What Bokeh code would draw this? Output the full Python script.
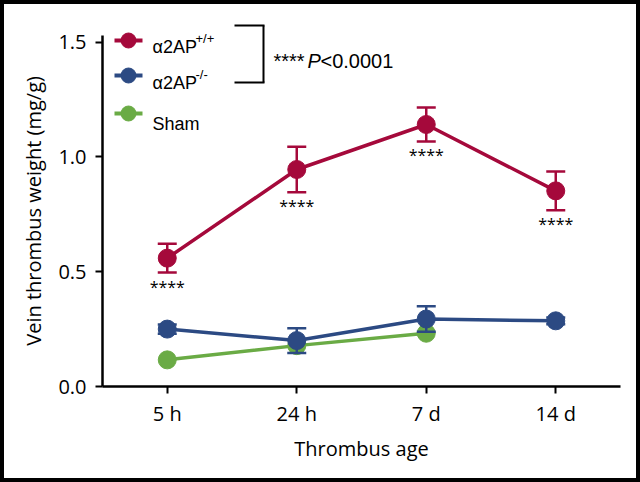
from bokeh.plotting import figure
from bokeh.models import Range1d, Label, Arrow, FixedTicker, PrintfTickFormatter, LinearScale
from bokeh.core.properties import value
from bokeh.embed import file_html
from bokeh.resources import INLINE

# ---- data ----
ages = ["5 h", "24 h", "7 d", "14 d"]
wt_mean = [0.559, 0.945, 1.141, 0.852]
wt_sem = [0.063, 0.099, 0.074, 0.084]
ko_mean = [0.250, 0.200, 0.294, 0.286]
ko_sem = [0.020, 0.054, 0.056, 0.015]
sham_ages = ["5 h", "24 h", "7 d"]
sham_mean = [0.116, 0.178, 0.232]
sig_marks = ["****", "****", "****", "****"]
y_ticks = [0.0, 0.5, 1.0, 1.5]
legend_names = ["\u03b12AP", "\u03b12AP", "Sham"]
legend_sups = ["+/+", "-/-", ""]
stat_stars = "****"
stat_p = "P"
stat_value = "<0.0001"
y_title = "Vein thrombus weight (mg/g)"
x_title = "Thrombus age"

RED = "#a5093b"
BLUE = "#2c4a83"
GREEN = "#6aab45"
AX_FONT = "Open Sans"
LEG_FONT = "Liberation Sans"

FRAME = 4
W, H = 640, 482
FW, FH = 518, 372
BL, BT = 98, 10
BR, BB = W - BL - FW, H - BT - FH
Y_TOP = 1.62

# category positions on a numeric axis (one slot per age group)
pos = {a: i + 0.5 for i, a in enumerate(ages)}
x_all = [pos[a] for a in ages]
x_sham = [pos[a] for a in sham_ages]

p = figure(x_range=Range1d(0, len(ages)), y_range=Range1d(0, Y_TOP),
           width=W, height=H, output_backend="svg", toolbar_location=None,
           min_border_left=BL, min_border_right=BR, min_border_top=BT, min_border_bottom=BB,
           styles={"border": f"{FRAME}px solid black", "box-sizing": "border-box"})
p.extra_x_ranges = {"px": Range1d(0, FW)}
p.extra_y_ranges = {"px": Range1d(0, FH)}
p.extra_x_scales = {"px": LinearScale()}
p.extra_y_scales = {"px": LinearScale()}
p.outline_line_color = None
p.xgrid.grid_line_color = None
p.ygrid.grid_line_color = None

for ax in (p.xaxis[0], p.yaxis[0]):
    ax.axis_line_width = 2.5
    ax.axis_line_color = "black"
    ax.major_tick_line_width = 2
    ax.major_tick_line_color = "black"
    ax.major_tick_out = 7
    ax.major_tick_in = 0
    ax.minor_tick_line_color = None
    ax.major_label_text_font = AX_FONT
    ax.major_label_text_font_size = "20px"
    ax.major_label_text_color = "black"
    ax.axis_label_text_font = AX_FONT
    ax.axis_label_text_font_size = "20px"
    ax.axis_label_text_font_style = "normal"
    ax.axis_label_text_color = "black"

p.yaxis.ticker = FixedTicker(ticks=y_ticks)
p.yaxis.formatter = PrintfTickFormatter(format="%.1f")
p.yaxis.bounds = (0, 1.53)
p.yaxis.major_label_standoff = 9
# trailing no-break spaces centre the title on the drawn axis line rather than the frame
p.yaxis.axis_label = y_title + "\u00a0" * 4
p.yaxis.axis_label_standoff = 8
p.xaxis.ticker = FixedTicker(ticks=x_all)
p.xaxis.major_label_overrides = {pos[a]: a for a in ages}
p.xaxis.axis_label = x_title
p.xaxis.major_label_standoff = 6
p.xaxis.axis_label_standoff = 5

# ---- sham (drawn first, underneath) ----
p.line(x_sham, sham_mean, line_color=GREEN, line_width=3.5)
p.scatter(x_sham, sham_mean, size=18, fill_color=GREEN, line_color=GREEN)

# ---- error bars and series ----
def series(means, sems, color):
    lo = [m - s for m, s in zip(means, sems)]
    hi = [m + s for m, s in zip(means, sems)]
    p.line(x_all, means, line_color=color, line_width=3.5)
    p.segment(x0=x_all, y0=lo, x1=x_all, y1=hi, line_color=color, line_width=2.5)
    p.scatter(x_all, lo, marker="dash", size=19, line_color=color, line_width=2.5)
    p.scatter(x_all, hi, marker="dash", size=19, line_color=color, line_width=2.5)
    p.scatter(x_all, means, size=18, fill_color=color, line_color=color)
    return lo

series(ko_mean, ko_sem, BLUE)
wt_lo = series(wt_mean, wt_sem, RED)

p.text(x=x_all, y=wt_lo, text=sig_marks, text_align="center", text_baseline="alphabetic",
       y_offset=14, text_font=value(AX_FONT), text_font_size="16px", text_color="black")

# ---- legend (frame pixel coordinates, origin at frame bottom-left) ----
leg_colors = [RED, BLUE, GREEN]
leg_y = [346, 311, 273]
p.segment(x0=[12] * 3, y0=leg_y, x1=[40] * 3, y1=leg_y, line_color=leg_colors,
          line_width=4, x_range_name="px", y_range_name="px")
p.scatter([26] * 3, leg_y, size=15, fill_color=leg_colors, line_color=leg_colors,
          x_range_name="px", y_range_name="px")

name_base = [340, 304, 263]
sup_base = [348, 312, 0]
for name, sup, yb, ys in zip(legend_names, legend_sups, name_base, sup_base):
    p.add_layout(Label(x=50, y=yb, x_units="screen", y_units="screen", text=name,
                       text_font=LEG_FONT, text_font_size="18px", text_color="black",
                       text_baseline="alphabetic"))
    if sup:
        p.add_layout(Label(x=93, y=ys, x_units="screen", y_units="screen", text=sup,
                           text_font=LEG_FONT, text_font_size="13px", text_color="black",
                           text_baseline="alphabetic"))

# bracket
for xs, ys, xe, ye in [(132, 361, 162, 361), (132, 304, 162, 304), (161, 361, 161, 304)]:
    p.add_layout(Arrow(x_start=xs, y_start=ys, x_end=xe, y_end=ye, start_units="screen",
                       end_units="screen", start=None, end=None, line_width=2, line_color="black"))

p.add_layout(Label(x=171, y=326, x_units="screen", y_units="screen", text=stat_stars,
                   text_font=LEG_FONT, text_font_size="20px", text_color="black",
                   text_baseline="alphabetic"))
p.add_layout(Label(x=205, y=326, x_units="screen", y_units="screen", text=stat_p,
                   text_font=LEG_FONT, text_font_size="20px", text_font_style="italic",
                   text_color="black", text_baseline="alphabetic"))
p.add_layout(Label(x=218, y=326, x_units="screen", y_units="screen", text=stat_value,
                   text_font=LEG_FONT, text_font_size="20px", text_color="black",
                   text_baseline="alphabetic"))

open("out.html", "w").write(file_html(p, INLINE))
